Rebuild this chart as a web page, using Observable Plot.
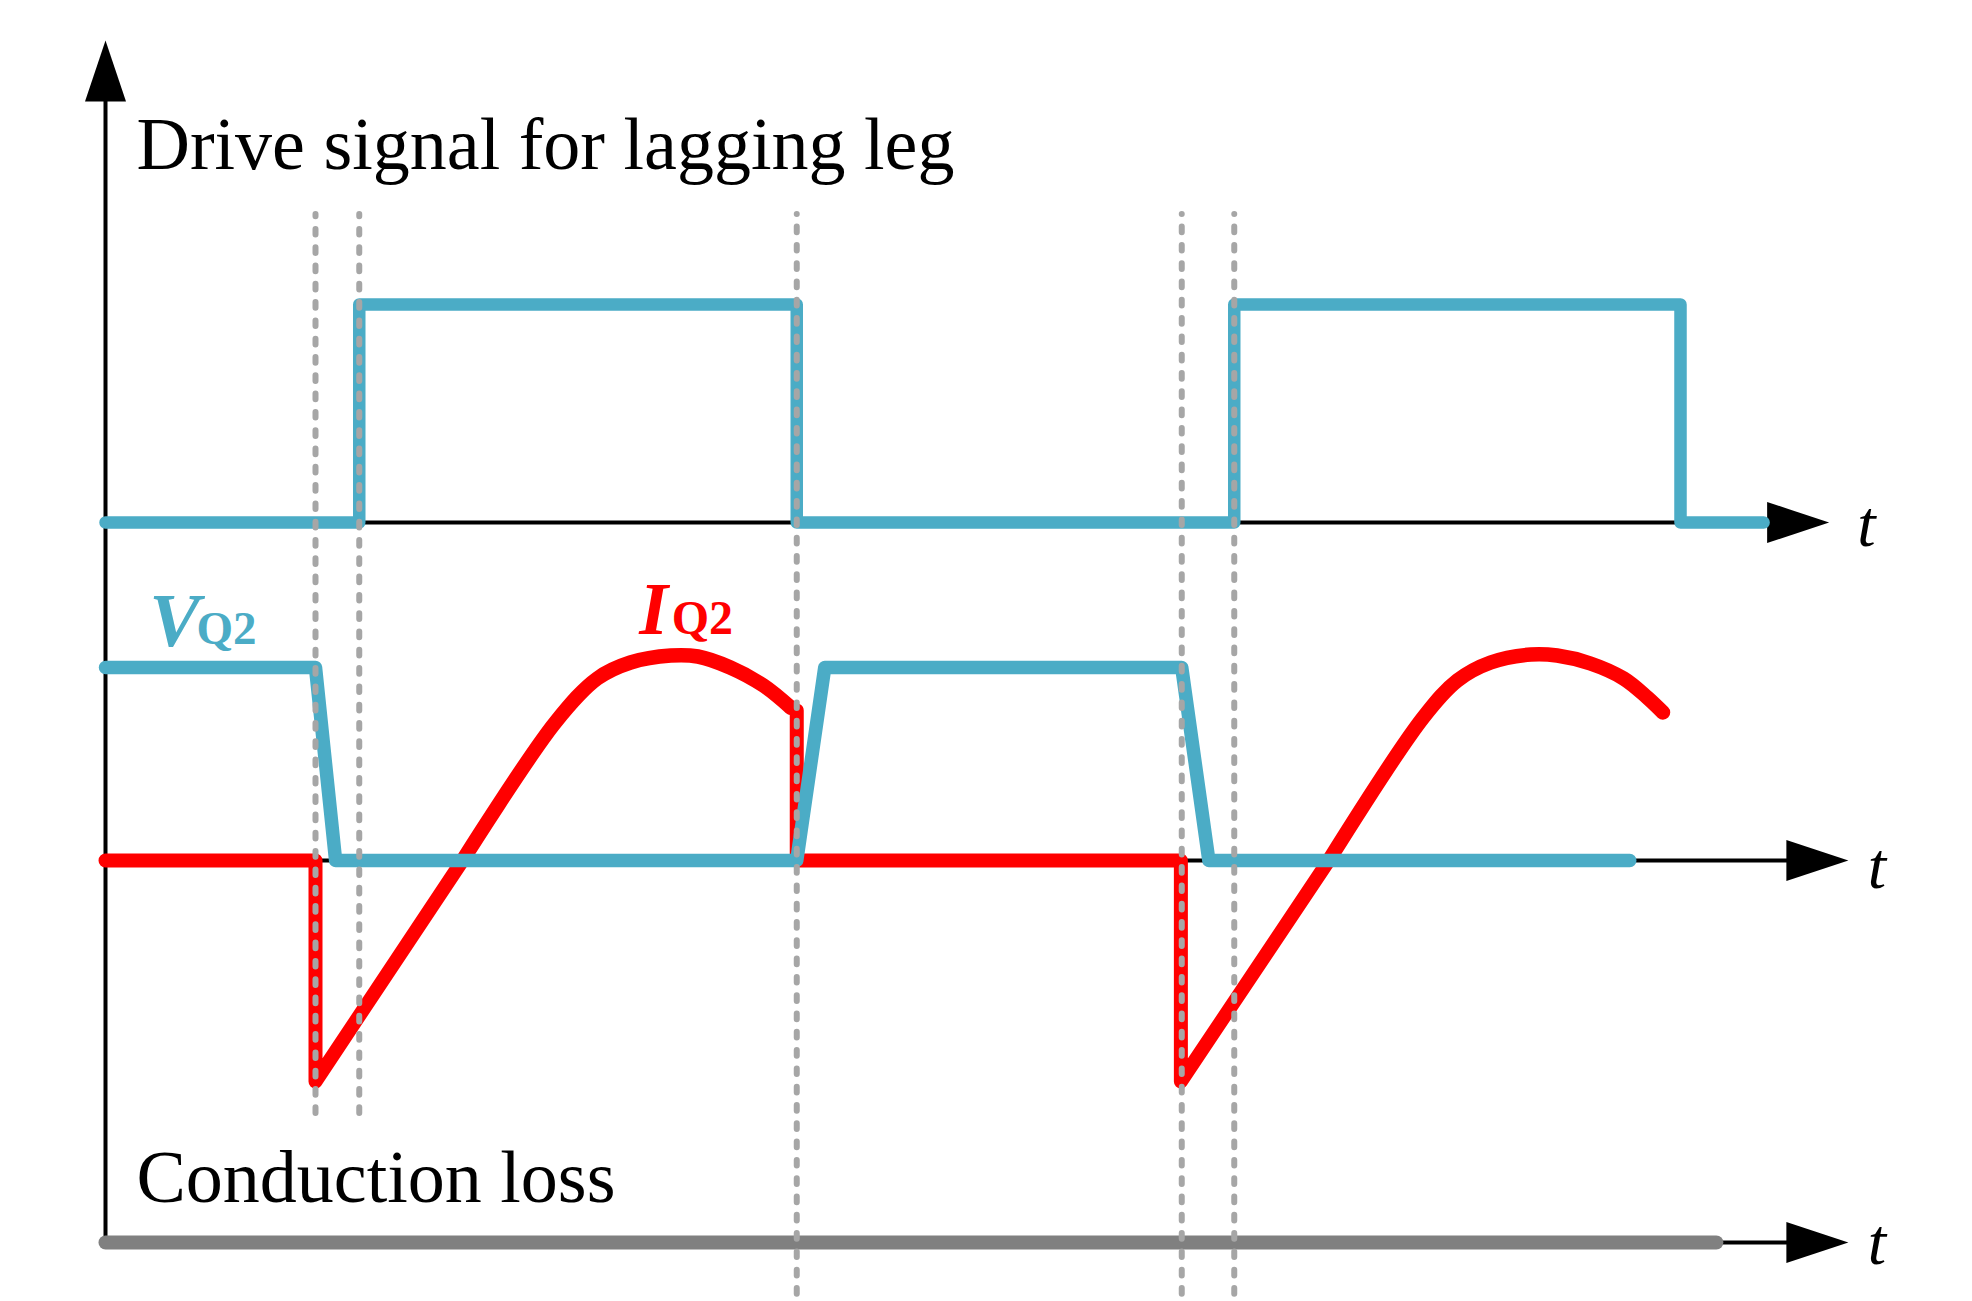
<!DOCTYPE html>
<html>
<head>
<meta charset="utf-8">
<script src="https://cdn.jsdelivr.net/npm/d3@7"></script>
<script src="https://cdn.jsdelivr.net/npm/@observablehq/plot@0.6"></script>
<style>
  html, body { margin: 0; padding: 0; background: #fff; }
  #chart svg { display: block; }
</style>
</head>
<body>
<div id="chart"></div>
<script>
// ---------------- data (time in arbitrary units, levels) ----------------
const driveTime  = [0, 29.0, 29.0, 79.0, 79.0, 129.0, 129.0, 180.0, 180.0, 189.5];
const driveLevel = [0, 0, 1, 1, 0, 0, 1, 1, 0, 0];

const vq2Time  = [0, 24.0, 26.3, 79.0, 82.2, 123.0, 126.1, 174.2];
const vq2Level = [1, 1, 0, 0, 1, 1, 0, 0];

const iq2Time  = [0, 24.0, 24.0, 40.8, 51.4, 56.2, 60.0, 64.6, 67.7, 71.4, 75.2, 78.3, 79.0, 79.0,
                  122.9, 122.9, 139.8, 150.6, 154.5, 158.3, 162.9, 165.9, 169.7, 173.5, 176.2, 178.0];
const iq2Value = [0, 0, -22.1, 0, 13.8, 18.2, 19.8, 20.5, 20.4, 19.3, 17.5, 15.3, 15.0, 0,
                  0, -22.1, 0, 14.3, 18.0, 19.8, 20.6, 20.5, 19.7, 18.2, 16.3, 14.8];
const iq2Smooth = [false, false, false, true, true, true, true, true, true, true, true, true, false, false,
                   false, false, true, true, true, true, true, true, true, true, true, true];

const switchTimes = [24.0, 29.0, 79.0, 123.0, 129.0];
const switchLong  = [false, false, true, true, true];

const lossTime  = [0, 184.1];
const lossLevel = [0, 0];

const titleDrive = "Drive signal for lagging leg";
const titleLoss  = "Conduction loss";
const axisLabel  = "t";

// ---------------- styling / layout ----------------
const BLUE = "#4BACC6", RED = "#FF0000", DASH = "#A6A6A6", LOSS = "#808080";
const SERIF = "'Liberation Serif', 'Times New Roman', serif";
const DRIVE_BASE = 72.0, DRIVE_AMP = 21.8;
const MID_BASE = 38.2, V_AMP = 19.3;
const LOSS_BASE = 0;

const driveRows = driveTime.map((t, i) => ({t, y: DRIVE_BASE + DRIVE_AMP * driveLevel[i]}));
const vRows = vq2Time.map((t, i) => ({t, y: MID_BASE + V_AMP * vq2Level[i]}));
const lossRows = lossTime.map((t, i) => ({t, y: LOSS_BASE + lossLevel[i]}));

// split current waveform into straight and smooth runs
const straightRows = [], smoothRows = [];
{
  let cur = null, id = 0;
  for (let i = 0; i < iq2Time.length - 1; i++) {
    const s = iq2Smooth[i] && iq2Smooth[i + 1];
    if (!cur || cur.s !== s) {
      cur = {s, id: id++};
      (s ? smoothRows : straightRows).push({t: iq2Time[i], y: MID_BASE + iq2Value[i], run: cur.id});
    }
    (s ? smoothRows : straightRows).push({t: iq2Time[i + 1], y: MID_BASE + iq2Value[i + 1], run: cur.id});
  }
}

const dashRows = switchTimes.map((t, i) => ({t, y1: switchLong[i] ? -7 : 12.9, y2: 102.8}));

// arrowheads (custom symbols)
const arrowRight = {draw(ctx) { ctx.moveTo(0, -20.5); ctx.lineTo(62, 0); ctx.lineTo(0, 20.5); ctx.closePath(); }};
const arrowUp = {draw(ctx) { ctx.moveTo(-20.5, 0); ctx.lineTo(0, -61); ctx.lineTo(20.5, 0); ctx.closePath(); }};

const hAxes = [
  {y: DRIVE_BASE, end: 189.9, tx: 200.2, ty: 69.7},
  {y: MID_BASE, end: 192.1, tx: 201.4, ty: 35.5},
  {y: LOSS_BASE, end: 192.1, tx: 201.4, ty: -2.1}
];

const lineOpts = {x: "t", y: "y", strokeLinecap: "round", strokeLinejoin: "round"};

const chart = Plot.plot({
  width: 1972,
  height: 1301,
  margin: 0,
  x: {domain: [0, 200], range: [105, 1855], axis: null},
  y: {domain: [0, 100], range: [1242, 242], axis: null},
  style: {background: "white"},
  marks: [
    // axes
    Plot.ruleY(hAxes, {y: "y", x1: () => 0, x2: d => d.end + 1, stroke: "black", strokeWidth: 4}),
    Plot.ruleX([0], {x: d => d, y1: () => 0, y2: () => 114.6, stroke: "black", strokeWidth: 4}),
    Plot.dot(hAxes, {x: "end", y: "y", symbol: arrowRight, fill: "black", r: 10}),
    Plot.dot([0], {x: d => d, y: () => 114.1, symbol: arrowUp, fill: "black", r: 10}),
    Plot.text(hAxes, {x: "tx", y: "ty", text: () => axisLabel, textAnchor: "start", fontFamily: SERIF,
      fontStyle: "italic", fontSize: 66, fill: "black", dy: -0.32 * 66}),

    // drive signal
    Plot.line(driveRows, {...lineOpts, stroke: BLUE, strokeWidth: 12.5}),

    // current IQ2
    Plot.line(straightRows, {...lineOpts, z: "run", stroke: RED, strokeWidth: 14, curve: "linear"}),
    Plot.line(smoothRows, {...lineOpts, z: "run", stroke: RED, strokeWidth: 14.5, curve: "catmull-rom"}),

    // voltage VQ2
    Plot.line(vRows, {...lineOpts, stroke: BLUE, strokeWidth: 13.5}),

    // conduction loss
    Plot.line(lossRows, {...lineOpts, stroke: LOSS, strokeWidth: 14}),

    // switching instants
    Plot.ruleX(dashRows, {x: "t", y1: "y1", y2: "y2", stroke: DASH, strokeWidth: 6,
      strokeDasharray: "5.7 12.6", strokeLinecap: "round"}),

    // titles
    Plot.text([titleDrive], {x: () => 3.54, y: () => 107.4, text: d => d, textAnchor: "start",
      fontFamily: SERIF, fontSize: 74, fill: "black", dy: -0.32 * 74}),
    Plot.text([titleLoss], {x: () => 3.54, y: () => 4.1, text: d => d, textAnchor: "start",
      fontFamily: SERIF, fontSize: 74, fill: "black", dy: -0.32 * 74}),

    // series labels
    Plot.text(["V"], {x: () => 5.0, y: () => 59.7, text: d => d, textAnchor: "start", fontFamily: SERIF,
      fontStyle: "italic", fontWeight: "bold", fontSize: 76, fill: BLUE, dy: -0.32 * 76}),
    Plot.text(["Q2"], {x: () => 10.4, y: () => 59.9, text: d => d, textAnchor: "start", fontFamily: SERIF,
      fontWeight: "bold", fontSize: 47, fill: BLUE, dy: -0.32 * 47}),
    Plot.text(["I"], {x: () => 61.0, y: () => 60.9, text: d => d, textAnchor: "start", fontFamily: SERIF,
      fontStyle: "italic", fontWeight: "bold", fontSize: 74, fill: RED, dy: -0.32 * 74}),
    Plot.text(["Q2"], {x: () => 64.7, y: () => 60.9, text: d => d, textAnchor: "start", fontFamily: SERIF,
      fontWeight: "bold", fontSize: 48, fill: RED, dy: -0.32 * 48})
  ]
});

document.getElementById("chart").appendChild(chart);
</script>
</body>
</html>
